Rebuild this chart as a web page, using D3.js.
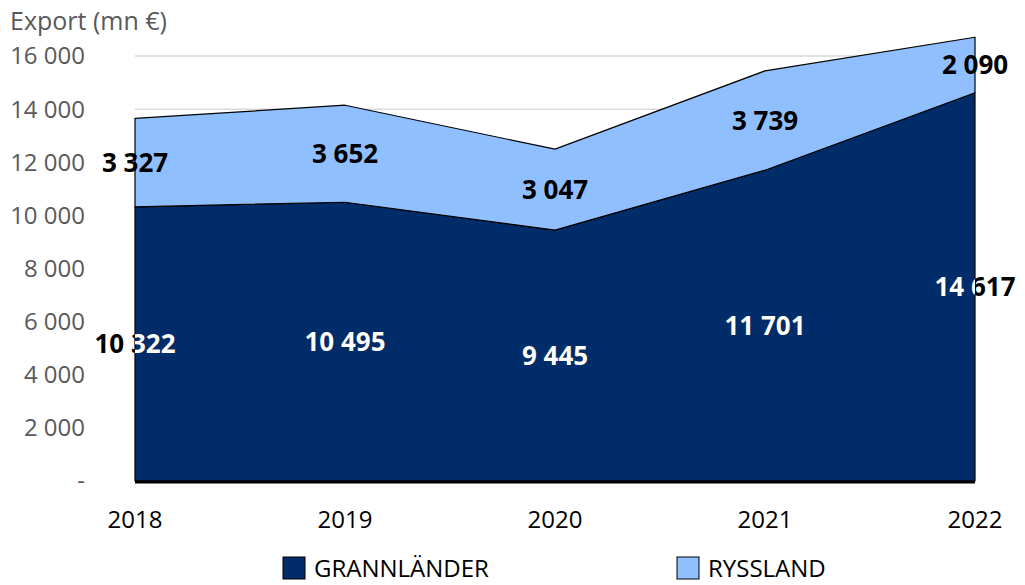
<!DOCTYPE html>
<html>
<head>
<meta charset="utf-8">
<script src="https://cdn.jsdelivr.net/npm/d3@7"></script>
<style>
  body { margin: 0; background: #fff; }
  text { font-family: "Open Sans", "Noto Sans", sans-serif; }
</style>
</head>
<body>
<div id="chart"></div>
<script>
var years = ["2018", "2019", "2020", "2021", "2022"];
var grannlander = [10322, 10495, 9445, 11701, 14617];
var ryssland = [3327, 3652, 3047, 3739, 2090];
var yTicks = [0, 2000, 4000, 6000, 8000, 10000, 12000, 14000, 16000];
var seriesNames = ["GRANNLÄNDER", "RYSSLAND"];

var width = 1025, height = 585;
var x0 = 135, x1 = 975, yBottom = 481, yTop = 56;

var svg = d3.select("#chart").append("svg")
  .attr("width", width).attr("height", height);

var rows = years.map(function (y, i) {
  return { year: y, g: grannlander[i], r: ryssland[i] };
});

var x = d3.scalePoint().domain(years).range([x0, x1]);
var y = d3.scaleLinear().domain([0, 16000]).range([yBottom, yTop]);

var fmt = function (v) {
  return v === 0 ? "-" : d3.format(",")(v).replace(/,/g, " ");
};

// gridlines
svg.append("g").selectAll("line")
  .data(yTicks.filter(function (d) { return d > 0; }))
  .enter().append("line")
  .attr("x1", x0).attr("x2", x1)
  .attr("y1", function (d) { return y(d); })
  .attr("y2", function (d) { return y(d); })
  .attr("stroke", "#d9d9d9").attr("stroke-width", 1.5);

// y tick labels
svg.append("g").selectAll("text")
  .data(yTicks)
  .enter().append("text")
  .attr("x", 85)
  .attr("y", function (d) { return y(d); })
  .attr("dy", "0.35em")
  .attr("text-anchor", "end")
  .attr("fill", "#595959")
  .attr("font-size", "24px")
  .text(fmt);

svg.append("text")
  .attr("x", 10).attr("y", 30)
  .attr("fill", "#595959")
  .attr("font-size", "25px")
  .text("Export (mn €)");

var stack = d3.stack().keys(["g", "r"]);
var layers = stack(rows);
var colors = ["#002d69", "#8fbffe"];

var area = d3.area()
  .x(function (d) { return x(d.data.year); })
  .y0(function (d) { return y(d[0]); })
  .y1(function (d) { return y(d[1]); });

svg.append("g").selectAll("path")
  .data(layers)
  .enter().append("path")
  .attr("d", area)
  .attr("fill", function (d, i) { return colors[i]; })
  .attr("stroke", "#000")
  .attr("stroke-width", 1.2)
  .attr("stroke-linejoin", "round");

// clip for white labels inside dark area
svg.append("clipPath").attr("id", "darkClip")
  .append("path").attr("d", area(layers[0]));

// baseline
svg.append("line")
  .attr("x1", x0).attr("x2", x1)
  .attr("y1", yBottom + 1).attr("y2", yBottom + 1)
  .attr("stroke", "#000").attr("stroke-width", 3);

// x labels
svg.append("g").selectAll("text")
  .data(years)
  .enter().append("text")
  .attr("x", function (d) { return x(d); })
  .attr("y", 528)
  .attr("text-anchor", "middle")
  .attr("fill", "#000")
  .attr("font-size", "24px")
  .text(function (d) { return d; });

// value labels
function addLabels(layer, fill, clip) {
  var g = svg.append("g");
  if (clip) g.attr("clip-path", "url(#darkClip)");
  g.selectAll("text")
    .data(layer)
    .enter().append("text")
    .attr("x", function (d) { return x(d.data.year); })
    .attr("y", function (d) { return y((d[0] + d[1]) / 2); })
    .attr("dy", "0.35em")
    .attr("text-anchor", "middle")
    .attr("font-weight", "bold")
    .attr("font-size", "26px")
    .attr("fill", fill)
    .text(function (d) { return fmt(d[1] - d[0]); });
}
addLabels(layers[0], "#000", false);
addLabels(layers[0], "#fff", true);
addLabels(layers[1], "#000", false);

// legend
var legend = svg.append("g").selectAll("g")
  .data(seriesNames)
  .enter().append("g")
  .attr("transform", function (d, i) { return "translate(" + [283, 677][i] + ",557)"; });

legend.append("rect")
  .attr("width", 22).attr("height", 22)
  .attr("fill", function (d, i) { return colors[i]; })
  .attr("stroke", "#000").attr("stroke-width", 1);

legend.append("text")
  .attr("x", 31).attr("y", 12)
  .attr("dy", "0.35em")
  .attr("font-size", "24px")
  .attr("fill", "#000")
  .text(function (d) { return d; });
</script>
</body>
</html>
